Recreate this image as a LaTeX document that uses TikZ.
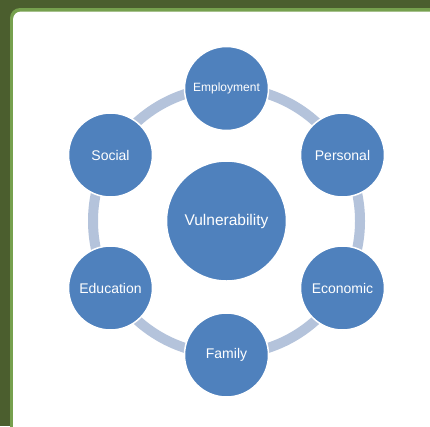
\documentclass[tikz,border=0pt]{standalone}
\usepackage{fontspec}
\setmainfont{Liberation Sans}
\definecolor{frameback}{HTML}{4B5E2E}
\definecolor{frameedge}{HTML}{76A04E}
\definecolor{discblue}{HTML}{4F81BD}
\definecolor{ringblue}{HTML}{B4C3DB}
\tikzset{
  disc/.style={circle, fill=discblue, draw=white, line width=1.5pt,
    inner sep=0pt, minimum size=84pt, text=white,
    font=\fontsize{14}{16}\selectfont},
  hub/.style={disc, minimum size=120pt, font=\fontsize{15.5}{17}\selectfont},
  ring/.style={draw=ringblue, line width=10pt}
}
\begin{document}
\begin{tikzpicture}[x=1pt,y=-1pt]
  \useasboundingbox (0,0) rectangle (430,426);
  \clip (0,0) rectangle (430,426);
  % page frame
  \fill[frameback] (0,0) rectangle (430,426);
  \fill[frameedge, rounded corners=10pt] (10,8) rectangle (460,460);
  \fill[white, rounded corners=8pt] (13,11.5) rectangle (460,460);

  % hub
  \node[hub] (vul) at (226.5,221) {Vulnerability};

  % ring behind the outer discs
  \draw[ring] (vul.center) circle (133.5pt);

  % outer discs
  \node[disc, font=\fontsize{12}{14}\selectfont] (emp) at (226.5,88.5) {Employment};
  \node[disc] (per) at (342.5,155) {Personal};
  \node[disc] (eco) at (342.5,288) {Economic};
  \node[disc] (fam) at (226.5,355) {Family};
  \node[disc] (edu) at (110.5,288) {Education};
  \node[disc] (soc) at (110.5,155) {Social};
\end{tikzpicture}
\end{document}
